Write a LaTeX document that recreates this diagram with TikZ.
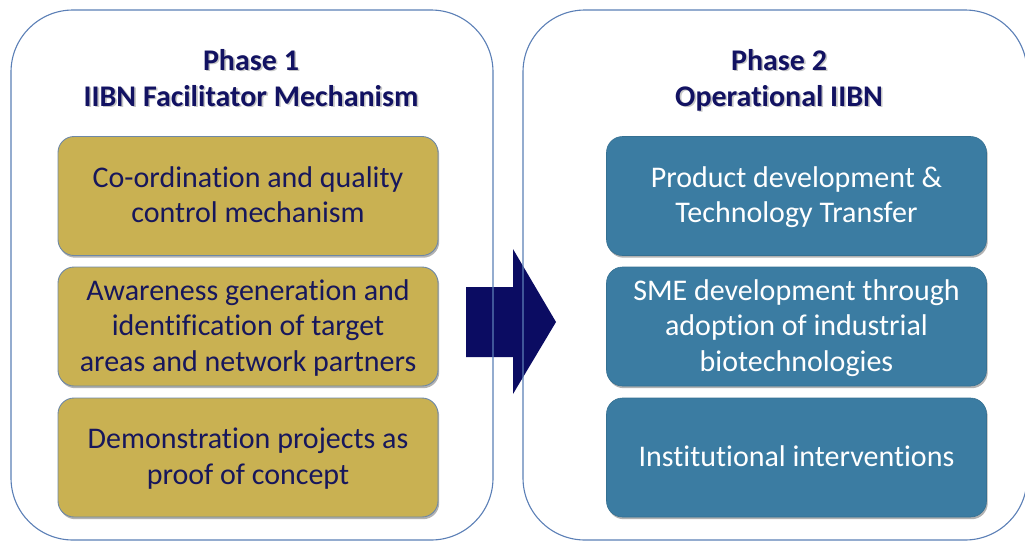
\documentclass[tikz,border=0pt]{standalone}
\usepackage{fontspec}
\setmainfont{Carlito}[Ligatures=NoCommon, RawFeature={-liga;-clig;-calt}]
\usetikzlibrary{shadows}
\definecolor{goldc}{HTML}{C9B152}
\definecolor{goldline}{HTML}{6E88A6}
\definecolor{bluec}{HTML}{3B7CA2}
\definecolor{panelc}{HTML}{5B7FB6}
\definecolor{navytext}{HTML}{17175C}
\definecolor{titlec}{HTML}{121262}
\definecolor{arrowc}{HTML}{0B0C62}
\newcommand\shadtext[1]{\leavevmode\rlap{\kern1.6pt\raisebox{-1.6pt}{\textcolor{black!22}{#1}}}#1}
\newcommand\tstrut{\rule{0pt}{26pt}}
\newcommand\bstrut{\rule[-8pt]{0pt}{0pt}}
\begin{document}
\begin{tikzpicture}[x=1pt,y=-1pt,
  panel/.style={rectangle, draw=panelc, line width=1.1pt, rounded corners=62pt, inner sep=0pt},
  boxbase/.style={rectangle, rounded corners=16pt, minimum width=380pt, minimum height=119pt,
    align=center, font=\fontsize{30}{35.5}\selectfont, inner sep=0pt,
    drop shadow={shadow xshift=1.2pt, shadow yshift=-2.2pt, opacity=0.3, fill=black}},
  goldbox/.style={boxbase, fill=goldc, draw=goldline, line width=0.9pt, text=navytext},
  bluebox/.style={boxbase, fill=bluec, draw=bluec!90!black, line width=0.6pt, text=white},
  titletext/.style={anchor=base, inner sep=0pt, text=titlec, font=\fontsize{30}{36}\selectfont\bfseries}]
\useasboundingbox (0,0) rectangle (1025,542);
\clip (0,0) rectangle (1025,542);
% arrow between phases
\fill[arrowc] (466,287) -- (513,287) -- (513,249) -- (556,322) -- (513,394) -- (513,357) -- (466,357) -- cycle;
% panels
\node[panel, minimum width=482pt, minimum height=530pt] (p1) at (252,275) {};
\node[panel, minimum width=504pt, minimum height=530pt] (p2) at (775,275) {};
% titles
\node[titletext] (t1a) at (251,70) {\shadtext{Phase 1}};
\node[titletext] (t1b) at (251,106) {\shadtext{IIBN Facilitator Mechanism}};
\node[titletext] (t2a) at (779,70) {\shadtext{Phase 2}};
\node[titletext] (t2b) at (779,106) {\shadtext{Operational IIBN}};
% phase 1 boxes
\node[goldbox] (g1) at (248,196) {\tstrut Co-ordination and quality\\control mechanism\bstrut};
\node[goldbox] (g2) at (248,326.5) {\tstrut Awareness generation and\\identification of target\\areas and network partners\bstrut};
\node[goldbox] (g3) at (248,457.5) {\tstrut Demonstration projects as\\proof of concept\bstrut};
% phase 2 boxes
\node[bluebox] (b1) at (796.5,196) {\tstrut Product development \&\\Technology Transfer\bstrut};
\node[bluebox] (b2) at (796.5,326.5) {\tstrut SME development through\\adoption of industrial\\biotechnologies\bstrut};
\node[bluebox] (b3) at (796.5,457.5) {\tstrut Institutional interventions\bstrut};
\end{tikzpicture}
\end{document}
